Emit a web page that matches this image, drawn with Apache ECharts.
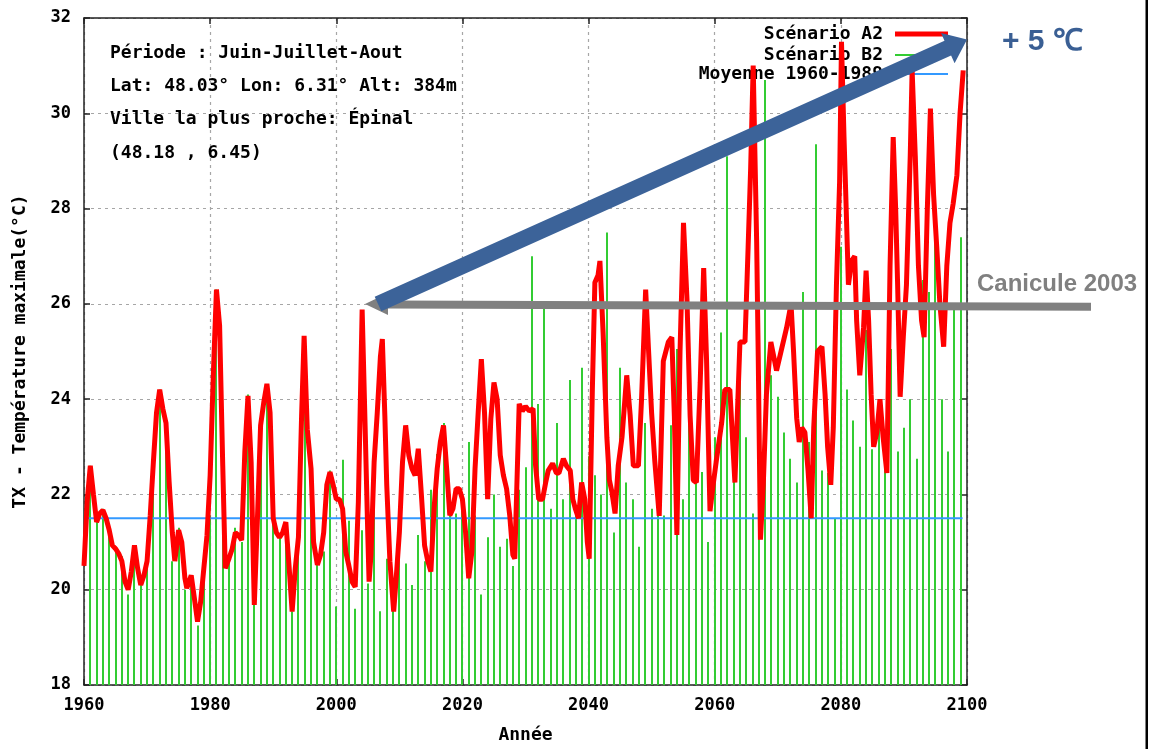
<!DOCTYPE html>
<html><head><meta charset="utf-8">
<script src="https://cdn.jsdelivr.net/npm/echarts@6/dist/echarts.min.js"></script>
<style>html,body{margin:0;padding:0;background:#fff}#c{width:1154px;height:749px}</style>
</head><body><div id="c"></div>
<script>
// ---- data ----
const a2Years = [
1960.0,1960.5,1961.0,1961.5,1962.0,1962.5,1963.0,1963.5,1964.0,1964.5,1965.0,1965.5,1966.0,1966.5,1967.0,1967.5,1968.0,1968.5,1969.0,1969.5,
1970.0,1970.5,1971.0,1971.5,1972.0,1972.5,1973.0,1973.5,1974.0,1974.4,1975.0,1975.5,1976.0,1976.3,1977.0,1977.5,1978.0,1978.5,1979.0,1979.5,
1980.0,1980.5,1981.0,1981.5,1982.0,1982.4,1983.0,1983.5,1984.0,1984.5,1985.0,1985.5,1986.0,1986.5,1987.0,1987.5,1988.0,1988.5,1989.0,1989.5,
1990.0,1990.5,1991.0,1991.5,1992.0,1992.5,1993.0,1993.5,1994.0,1994.5,1994.9,1995.4,1996.0,1996.4,1997.0,1997.5,1998.0,1998.5,1999.0,1999.5,
2000.0,2000.5,2001.0,2001.5,2002.0,2002.5,2003.0,2003.5,2004.1,2004.5,2005.0,2005.2,2005.5,2006.0,2006.5,2007.0,2007.3,2007.7,2008.0,2008.5,
2009.1,2009.5,2010.0,2010.5,2011.0,2011.5,2012.0,2012.5,2013.0,2013.5,2014.0,2014.5,2015.0,2015.5,2016.0,2016.5,2017.0,2017.5,2018.0,2018.5,
2019.0,2019.5,2020.0,2020.5,2021.0,2021.5,2022.0,2022.5,2023.0,2023.5,2024.0,2024.5,2025.0,2025.5,2026.0,2026.5,2027.0,2027.5,2028.0,2028.3,
2029.0,2029.5,2030.0,2030.6,2031.2,2031.6,2032.1,2032.7,2033.2,2033.6,2034.3,2034.9,2035.3,2036.0,2036.5,2037.1,2037.5,2037.9,2038.4,2038.9,
2039.4,2039.8,2040.1,2040.6,2041.0,2041.5,2041.8,2042.3,2042.9,2043.3,2043.7,2044.2,2044.7,2045.3,2046.05,2046.6,2047.1,2047.9,2048.4,2049.05,
2049.5,2050.0,2050.5,2051.2,2051.85,2052.65,2053.2,2053.6,2054.0,2054.5,2055.05,2055.6,2056.1,2056.6,2057.1,2057.7,2058.25,2058.7,2059.25,2059.8,
2060.3,2061.1,2061.6,2062.4,2063.2,2064.0,2064.8,2065.3,2065.7,2066.1,2066.65,2066.9,2067.25,2067.7,2068.2,2068.9,2069.8,2070.6,2071.4,2072.1,
2072.5,2073.0,2073.4,2073.8,2074.3,2074.8,2075.3,2075.7,2076.3,2077.0,2077.5,2077.9,2078.4,2078.8,2079.3,2079.8,2080.1,2080.5,2080.8,2081.2,
2081.7,2082.2,2082.5,2083.0,2083.6,2084.0,2084.4,2084.8,2085.2,2085.7,2086.2,2086.7,2087.3,2087.8,2088.3,2088.7,2089.0,2089.4,2089.9,2090.4,
2091.0,2091.3,2091.8,2092.3,2092.8,2093.2,2093.7,2094.2,2094.7,2095.2,2095.7,2096.3,2096.8,2097.3,2097.8,2098.4,2098.9,2099.4
];
const a2Values = [
20.5,21.85,22.6,22.0,21.42,21.6,21.67,21.5,21.25,20.93,20.86,20.76,20.6,20.17,20.0,20.38,20.93,20.45,20.1,20.3,
20.6,21.56,22.68,23.72,24.2,23.8,23.5,22.26,21.2,20.6,21.25,21.0,20.24,20.03,20.3,19.82,19.33,19.75,20.45,21.14,
22.4,24.5,26.3,25.54,22.6,20.45,20.66,20.86,21.2,21.14,21.04,22.9,24.07,22.68,19.68,21.5,23.45,23.93,24.32,23.72,
21.5,21.2,21.1,21.2,21.42,20.52,19.54,20.45,21.1,23.65,25.33,23.37,22.54,21.0,20.52,20.73,21.2,22.2,22.47,22.2,
21.9,21.9,21.7,20.8,20.5,20.17,20.06,21.84,25.88,23.8,21.14,20.17,20.73,22.68,23.72,24.9,25.26,23.65,22.2,20.6,
19.54,20.24,21.2,22.68,23.45,22.82,22.54,22.4,22.96,21.98,20.93,20.6,20.38,21.7,22.54,23.1,23.45,22.54,21.56,21.7,
22.12,22.12,21.9,21.2,20.24,20.8,22.54,23.72,24.84,23.72,21.9,23.58,24.35,24.0,22.82,22.4,22.12,21.56,20.73,20.65,
23.9,23.75,23.85,23.75,23.8,22.6,21.9,21.9,22.25,22.5,22.65,22.45,22.45,22.75,22.6,22.5,21.9,21.7,21.5,22.25,
21.9,21.0,20.65,24.2,26.45,26.6,26.9,25.4,23.2,22.3,22.05,21.6,22.6,23.2,24.5,23.65,22.6,22.6,24.0,26.3,
25.05,23.7,22.7,21.55,24.8,25.2,25.3,23.65,21.15,25.0,27.7,26.1,23.65,22.3,22.25,24.35,26.75,24.85,21.65,22.25,
22.75,23.5,24.2,24.2,22.25,25.2,25.2,27.2,28.85,31.0,27.3,24.9,21.05,22.2,24.1,25.2,24.6,25.05,25.5,26.0,
25.0,23.6,23.1,23.4,23.3,22.5,21.5,23.4,25.0,25.1,24.1,23.0,22.2,23.4,26.4,28.55,31.5,29.5,28.2,26.4,
26.9,27.0,25.65,24.5,25.5,26.7,25.65,24.1,23.0,23.3,24.0,23.2,22.45,26.8,29.5,27.95,26.4,24.05,25.3,26.4,
29.1,30.9,29.1,26.8,25.65,25.3,27.95,30.1,28.3,27.2,26.0,25.1,26.8,27.7,28.1,28.7,30.0,30.9
];
const b2FirstYear = 1961;
const b2Values = [
22.6,21.5,21.7,21.3,20.9,20.7,19.9,20.9,20.1,
20.5,22.3,24.2,23.6,20.6,21.3,20.0,20.3,19.25,20.3,
21.55,26.3,22.5,20.65,21.3,21.0,24.1,19.7,23.6,24.3,
21.4,21.1,21.4,19.55,20.83,25.3,22.2,20.6,20.8,22.5,
19.65,22.73,21.45,19.6,21.25,20.13,22.26,19.55,20.65,20.1,
21.04,20.55,20.1,21.15,20.6,22.1,22.85,23.5,21.55,21.6,
21.9,23.1,21.56,19.9,21.1,22.0,20.9,21.07,20.5,22.1,
22.57,27.0,23.9,25.9,21.7,23.5,21.9,24.4,21.7,24.66,
22.8,22.4,22.0,27.5,21.2,24.66,22.25,21.9,20.9,23.5,
21.7,22.4,21.56,23.45,25.05,21.9,25.0,22.6,22.47,21.0,
23.2,25.4,29.1,22.4,24.5,23.2,21.6,22.4,30.7,24.5,
24.05,23.3,22.75,22.25,26.25,23.1,29.35,22.5,22.45,21.5,
27.2,24.2,23.55,23.0,25.45,22.95,23.95,23.15,25.05,22.9,
23.4,24.0,22.75,26.5,26.25,28.0,24.0,22.9,25.9,27.4
];
const meanYears = [1960, 2099.3];
const meanValues = [21.5, 21.5];
const seriesNames = ['Scénario A2', 'Scénario B2', 'Moyenne 1960-1989'];
const infoLines = ['Période : Juin-Juillet-Aout', 'Lat: 48.03° Lon: 6.31° Alt: 384m', 'Ville la plus proche: Épinal', '(48.18 , 6.45)'];
const xName = 'Année';
const yName = 'TX - Température maximale(°C)';
const heatLabel = 'Canicule 2003';
const deltaLabel = '+ 5 ℃';

// ---- chart ----
const MONO = '"DejaVu Sans Mono", "Liberation Mono", monospace';
const Y_MIN = 18, Y_MAX = 32;
const a2Data = a2Years.map((y, i) => [y, a2Values[i]]);
const b2Data = b2Values.map((v, i) => [b2FirstYear + i, v]);
const meanData = meanYears.map((y, i) => [y, meanValues[i]]);

const chart = echarts.init(document.getElementById('c'), null, {renderer: 'canvas'});
const frame = {show: true, lineStyle: {color: '#222', width: 1.5}};
const tick = {show: true, inside: true, length: 6, lineStyle: {color: '#222', width: 1.5}};
const gridLine = {show: true, lineStyle: {color: '#a6a6a6', width: 1.2, type: [3, 4]}};
const lbl = {fontFamily: MONO, fontWeight: 'bold', fontSize: 17, color: '#000'};

function legendFor(name, centerY, h) {
  return {
    data: [name], right: 206, top: centerY - 9, padding: 0,
    align: 'right', icon: 'rect', itemWidth: 53, itemHeight: h,
    selectedMode: false,
    textStyle: {fontFamily: MONO, fontWeight: 'bold', fontSize: 18, color: '#000', lineHeight: 18, padding: [0, 7, 0, 0]}
  };
}

const infoGraphics = infoLines.map((t, i) => ({
  type: 'text', x: 110, y: [53, 86, 119, 153][i], z: 50, silent: true,
  style: {text: t, font: 'bold 18px ' + MONO, fill: '#000', verticalAlign: 'middle'}
}));

chart.setOption({
  animation: false,
  backgroundColor: '#fff',
  grid: {left: 84, top: 18, right: 187, bottom: 62, containLabel: false},
  xAxis: [
    {type: 'value', min: 1960, max: 2100, interval: 20, position: 'bottom',
     axisLine: frame, axisTick: tick, splitLine: gridLine,
     axisLabel: Object.assign({margin: 12, formatter: v => String(v)}, lbl),
     name: xName, nameLocation: 'middle', nameGap: 41,
     nameTextStyle: {fontFamily: MONO, fontWeight: 'bold', fontSize: 18, color: '#000'}},
    {type: 'value', min: 1960, max: 2100, interval: 20, position: 'top',
     axisLine: frame, axisTick: tick, splitLine: {show: false}, axisLabel: {show: false}}
  ],
  yAxis: [
    {type: 'value', min: Y_MIN, max: Y_MAX, interval: 2, position: 'left',
     axisLine: frame, axisTick: tick, splitLine: gridLine,
     axisLabel: Object.assign({margin: 13}, lbl),
     name: yName, nameLocation: 'middle', nameGap: 55, nameRotate: 90,
     nameTextStyle: {fontFamily: MONO, fontWeight: 'bold', fontSize: 18, color: '#000'}},
    {type: 'value', min: Y_MIN, max: Y_MAX, interval: 2, position: 'right',
     axisLine: frame, axisTick: tick, splitLine: {show: false}, axisLabel: {show: false}}
  ],
  legend: [
    legendFor(seriesNames[0], 34, 5),
    legendFor(seriesNames[1], 55, 2),
    legendFor(seriesNames[2], 74, 2)
  ],
  series: [
    {name: seriesNames[1], type: 'custom', data: b2Data, z: 2, silent: true,
     itemStyle: {color: '#33cc33'},
     renderItem: function (params, api) {
       const top = api.coord([api.value(0), api.value(1)]);
       const base = api.coord([api.value(0), Y_MIN]);
       return {type: 'rect',
         shape: {x: Math.round(top[0]) - 1, y: top[1], width: 2, height: base[1] - top[1]},
         style: {fill: '#33cc33'}};
     }},
    {name: seriesNames[2], type: 'line', data: meanData, showSymbol: false,
     lineStyle: {color: '#3399ff', width: 2}, itemStyle: {color: '#3399ff'}, z: 3, silent: true},
    {name: seriesNames[0], type: 'line', data: a2Data, showSymbol: false,
     lineStyle: {color: '#ff0000', width: 5}, itemStyle: {color: '#ff0000'}, z: 4, silent: true}
  ],
  graphic: infoGraphics.concat([
    {type: 'polygon', z: 100, silent: true,
     shape: {points: [[365, 304], [388, 293], [388, 300.5], [1091, 302.8], [1091, 310.8], [388, 308.5], [388, 315]]},
     style: {fill: '#808080'}},
    {type: 'polygon', z: 101, silent: true,
     shape: {points: [[381.3, 311.3], [951.1, 55.4], [954.6, 63.2], [967, 39.5], [941.0, 33.05], [944.5, 40.8], [374.7, 296.7]]},
     style: {fill: '#3c6399'}},
    {type: 'text', x: 977, y: 284, z: 102, silent: true,
     style: {text: heatLabel, font: 'bold 24px "Liberation Sans", Arial, sans-serif', fill: '#808080', verticalAlign: 'middle'}},
    {type: 'text', x: 1002, y: 42, z: 102, silent: true,
     style: {text: deltaLabel, font: 'bold 30px "Liberation Sans", Arial, sans-serif', fill: '#3a5f94', verticalAlign: 'middle'}},
    {type: 'rect', z: 102, silent: true, shape: {x: 1145.5, y: 0, width: 2.5, height: 749}, style: {fill: '#000'}}
  ])
});
</script></body></html>
